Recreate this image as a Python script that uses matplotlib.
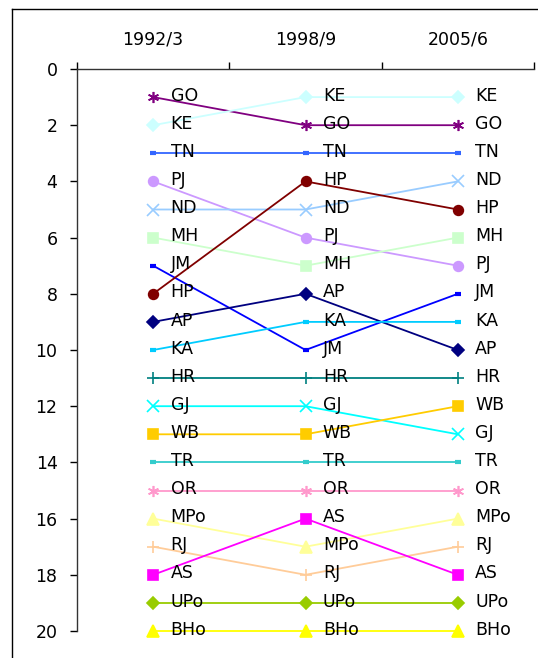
import matplotlib
matplotlib.use("Agg")
import matplotlib.pyplot as plt
from matplotlib.lines import Line2D

plt.rcParams['font.family'] = ['DejaVu Sans']

periods = ["1992/3", "1998/9", "2005/6"]

states = ["GO", "KE", "TN", "PJ", "ND", "MH", "JM", "HP", "AP", "KA",
          "HR", "GJ", "WB", "TR", "OR", "MPo", "RJ", "AS", "UPo", "BHo"]

rank_1992 = [1, 2, 3, 4, 5, 6, 7, 8, 9, 10, 11, 12, 13, 14, 15, 16, 17, 18, 19, 20]
rank_1998 = [2, 1, 3, 6, 5, 7, 10, 4, 8, 9, 11, 12, 13, 14, 15, 17, 18, 16, 19, 20]
rank_2005 = [2, 1, 3, 7, 4, 6, 8, 5, 10, 9, 11, 13, 12, 14, 15, 16, 17, 18, 19, 20]

colors = ["#800080", "#CCFFFF", "#3366FF", "#CC99FF", "#99CCFF", "#CCFFCC",
          "#0000FF", "#800000", "#000080", "#00CCFF", "#008080", "#00FFFF",
          "#FFCC00", "#33CCCC", "#FF99CC", "#FFFF99", "#FFCC99", "#FF00FF",
          "#99CC00", "#FFFF00"]

markers = [(6, 2, 0), "D", "_", "o", "x", "s", "_", "o", "D", "_",
           "+", "x", "s", "_", (6, 2, 0), "^", "+", "s", "D", "^"]

fig = plt.figure(figsize=(5.38, 6.58), dpi=100)
ax = fig.add_axes([77 / 538, 1 - 631 / 658, 457 / 538, 562 / 658])

x = list(range(len(periods)))
ranks = list(zip(rank_1992, rank_1998, rank_2005))

for name, r, c, m in zip(states, ranks, colors, markers):
    kw = dict(color=c, lw=1.3, marker=m, markersize=7,
              markerfacecolor=c, markeredgecolor=c, markeredgewidth=1.2,
              zorder=2, clip_on=False)
    if m == "_":
        kw.update(markersize=5, markeredgewidth=3)
    elif m == "D":
        kw.update(markersize=6.5)
    elif m == "^":
        kw.update(markersize=8.5)
    elif m in ("x", "+", (6, 2, 0)):
        kw.update(markersize=8, markeredgewidth=1.2)
    ax.plot(x, list(r), **kw)
    for xi, yi in zip(x, r):
        ax.annotate(name, (xi, yi), xytext=(12.5, 1), textcoords="offset points",
                    ha="left", va="center", fontsize=12.5, color="black",
                    zorder=3)

ax.set_xlim(-0.5, 2.5)
ax.set_ylim(20, 0)
ax.set_yticks(range(0, 21, 2))
ax.tick_params(axis="y", direction="out", length=5, width=1, pad=9,
               labelsize=12.5, colors="black")

ax.xaxis.tick_top()
ax.set_xticks(x)
ax.set_xticklabels(periods)
ax.tick_params(axis="x", which="major", length=0, pad=15, labelsize=12.5)
ax.set_xticks([-0.5, 0.5, 1.5, 2.5], minor=True)
ax.tick_params(axis="x", which="minor", direction="out", length=5, width=1,
               top=True, bottom=False)

for side in ("right", "bottom"):
    ax.spines[side].set_visible(False)
for side in ("left", "top"):
    ax.spines[side].set_linewidth(1)
    ax.spines[side].set_color("#333333")

# Frame around the chart area (top and left edges)
x0, y0 = 12 / 538, 1 - 9 / 658
fig.lines.append(Line2D([x0, 1.05], [y0, y0], transform=fig.transFigure,
                        color="black", lw=1))
fig.lines.append(Line2D([x0, x0], [y0, -0.05], transform=fig.transFigure,
                        color="black", lw=1))

fig.savefig("out.png", dpi=100)
